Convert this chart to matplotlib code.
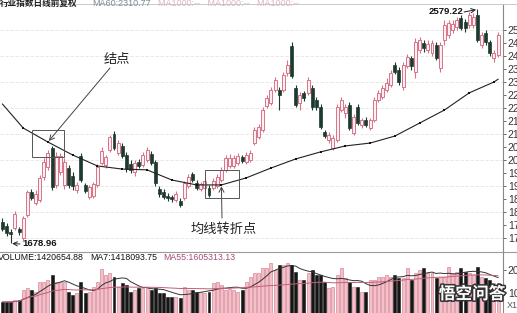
import numpy as np
import pandas as pd
import matplotlib
matplotlib.use("Agg")
import matplotlib.pyplot as plt
from matplotlib.patches import Rectangle
from matplotlib.lines import Line2D
import matplotlib.patheffects as pe

plt.rcParams['font.family'] = ['Liberation Sans', 'Noto Sans CJK SC', 'DejaVu Sans']

# ---- daily bars: open / high / low / close ----
opens = [1762, 1746, 1723, 1739, 1735, 1700, 1789, 1877, 1835, 1846,
         1935, 1973, 2046, 1904, 1954, 1904, 1969, 1939, 1885, 2015,
         1904, 1858, 1862, 1904, 1989, 1981, 2039, 2100, 2027, 2054,
         2019, 1985, 1954, 1992, 1981, 2000, 2023, 1992, 1889, 1877,
         1862, 1858, 1846, 1842, 1854, 1900, 1946, 1912, 1889, 1892,
         1892, 1892, 1900, 1923, 1962, 1977, 1977, 1989, 2012, 1992,
         2000, 2065, 2089, 2115, 2208, 2219, 2269, 2269, 2269, 2335,
         2439, 2277, 2219, 2258, 2258, 2277, 2231, 2204, 2108, 2077,
         2046, 2077, 2192, 2181, 2212, 2104, 2204, 2135, 2154, 2123,
         2154, 2231, 2242, 2269, 2289, 2365, 2346, 2281, 2362, 2392,
         2339, 2423, 2450, 2423, 2412, 2442, 2354, 2462, 2481, 2500,
         2512, 2546, 2531, 2519, 2519, 2558, 2442, 2488, 2454, 2392,
         2404]
highs = [1777, 1758, 1735, 1804, 1742, 1785, 1885, 1889, 1885, 1942,
         2008, 2039, 2054, 2031, 2027, 2008, 1981, 1954, 1915, 2027,
         1912, 1904, 1915, 1985, 2050, 2019, 2096, 2112, 2077, 2065,
         2031, 2000, 2000, 2004, 2031, 2050, 2035, 2000, 1900, 1889,
         1873, 1865, 1881, 1854, 1919, 1946, 1954, 1923, 1915, 1931,
         1904, 1931, 1946, 1973, 2019, 2023, 2019, 2027, 2019, 2031,
         2039, 2127, 2139, 2204, 2250, 2281, 2319, 2281, 2339, 2385,
         2454, 2289, 2262, 2265, 2319, 2289, 2242, 2215, 2115, 2108,
         2096, 2215, 2242, 2215, 2223, 2177, 2215, 2162, 2165, 2162,
         2242, 2269, 2289, 2315, 2346, 2377, 2358, 2377, 2408, 2400,
         2469, 2473, 2462, 2462, 2462, 2454, 2454, 2539, 2539, 2539,
         2550, 2558, 2542, 2569, 2565, 2579.22, 2492, 2500, 2462, 2423,
         2492]
lows = [1727, 1708, 1678.96, 1731, 1712, 1689, 1781, 1846, 1827, 1839,
        1923, 1962, 1885, 1892, 1942, 1889, 1892, 1885, 1873, 1915,
        1873, 1850, 1854, 1896, 1981, 1969, 2031, 2039, 2019, 2008,
        1954, 1950, 1939, 1969, 1973, 1992, 1981, 1900, 1858, 1850,
        1842, 1839, 1839, 1819, 1846, 1892, 1915, 1885, 1881, 1885,
        1858, 1885, 1892, 1915, 1954, 1969, 1969, 1981, 1989, 1985,
        1992, 2058, 2081, 2108, 2200, 2212, 2262, 2192, 2262, 2323,
        2315, 2204, 2192, 2227, 2250, 2192, 2192, 2119, 2085, 2065,
        2039, 2069, 2185, 2162, 2115, 2096, 2135, 2123, 2127, 2115,
        2146, 2223, 2235, 2262, 2281, 2331, 2289, 2269, 2354, 2346,
        2315, 2412, 2415, 2412, 2400, 2385, 2339, 2442, 2469, 2489,
        2500, 2500, 2492, 2508, 2508, 2454, 2431, 2442, 2400, 2377,
        2396]
closes = [1735, 1719, 1715, 1792, 1723, 1777, 1877, 1854, 1869, 1931,
          1992, 2027, 1896, 2015, 2015, 1992, 1904, 1900, 1904, 1923,
          1881, 1896, 1908, 1973, 2035, 2012, 2089, 2046, 2065, 2015,
          1965, 1962, 1989, 1977, 2019, 2039, 1989, 1912, 1869, 1858,
          1854, 1850, 1869, 1827, 1912, 1935, 1923, 1892, 1908, 1919,
          1865, 1919, 1935, 1962, 2008, 2008, 2008, 2015, 1996, 2019,
          2027, 2115, 2127, 2192, 2239, 2269, 2308, 2250, 2327, 2365,
          2323, 2212, 2250, 2239, 2308, 2204, 2204, 2127, 2092, 2096,
          2085, 2204, 2231, 2204, 2123, 2165, 2142, 2154, 2135, 2154,
          2231, 2258, 2277, 2296, 2335, 2339, 2300, 2365, 2396, 2362,
          2454, 2462, 2431, 2446, 2450, 2392, 2442, 2519, 2527, 2523,
          2539, 2508, 2508, 2558, 2550, 2462, 2481, 2454, 2412, 2412,
          2481]

# daily volume, in units of 100000
volume = [5.8, 5.8, 5.8, 6.7, 6.7, 11.2, 12.1, 11.2, 10.3, 14.7,
          14.7, 15.6, 17.9, 14.7, 14.7, 14.7, 10.3, 8.9, 9.8, 14.7,
          9.8, 10.3, 12.5, 14.7, 20.5, 17.9, 18.8, 17.0, 12.5, 14.3,
          13.4, 10.3, 11.2, 12.1, 12.1, 12.1, 11.2, 12.1, 9.8, 9.8,
          8.0, 8.0, 8.0, 7.6, 12.5, 11.2, 11.2, 10.3, 10.3, 9.8,
          10.3, 14.3, 14.7, 13.4, 11.2, 11.6, 11.2, 10.3, 11.2, 14.7,
          17.0, 18.8, 18.8, 21.0, 21.0, 23.2, 20.1, 22.3, 22.3, 23.2,
          22.3, 19.2, 15.6, 15.6, 18.8, 20.1, 17.9, 17.9, 14.7, 12.1,
          12.5, 17.9, 21.0, 16.5, 14.7, 12.5, 12.5, 10.3, 10.3, 15.6,
          15.6, 17.0, 17.0, 17.9, 17.0, 17.9, 16.5, 16.5, 21.0, 15.6,
          18.8, 20.1, 21.0, 18.8, 18.8, 16.5, 17.0, 17.0, 21.4, 18.8,
          19.2, 21.0, 19.2, 18.8, 17.9, 21.4, 17.0, 16.5, 15.6, 14.3,
          14.2065488]

# 60-day moving average of the close, sampled every six sessions
ma60_idx = [0, 5, 11, 17, 23, 29, 35, 41, 47, 53, 59, 65, 71, 77, 83,
            89, 95, 101, 107, 113, 119, 120]
ma60_val = [2215, 2123, 2069, 2019, 1977, 1965, 1962, 1923, 1904, 1904,
            1931, 1969, 2004, 2031, 2054, 2065, 2092, 2142, 2192, 2258,
            2300, 2310.77]

price_ticks = list(range(1700, 2501, 50))

UP_EDGE = '#d77288'
UP_FACE = '#fdf0f2'
DOWN = '#1e3a2e'
VOL_UP_FACE = '#f3bfc9'
VOL_UP_EDGE = '#d98a9a'
VOL_DOWN = '#161616'

W, H = 517, 313
fig = plt.figure(figsize=(W / 100, H / 100), dpi=100)
fig.patch.set_facecolor('white')


def fy(py):
    return 1 - py / H


ax = fig.add_axes([0, fy(252), 503 / W, (252 - 4) / H])
vax = fig.add_axes([0, fy(315), 503 / W, (315 - 252) / H])

n = len(closes)
idx = np.arange(n)
o = np.array(opens, float)
c = np.array(closes, float)
hi = np.array(highs, float)
lo = np.array(lows, float)
up = c >= o

# ---- price panel ----
for p in range(1700, 2600, 100):
    ax.axhline(p, color='#e4e4e4', lw=0.6, ls=(0, (4, 2)), zorder=0)

wick_col = np.where(up, UP_EDGE, DOWN)
ax.vlines(idx, lo, hi, colors=wick_col, lw=0.8, zorder=2)
body_bot = np.minimum(o, c)
body_h = np.maximum(np.abs(c - o), 3)
ax.bar(idx[up], body_h[up], bottom=body_bot[up], width=0.72,
       facecolor=UP_FACE, edgecolor=UP_EDGE, linewidth=0.7, zorder=3)
ax.bar(idx[~up], body_h[~up], bottom=body_bot[~up], width=0.72,
       facecolor=DOWN, edgecolor=DOWN, linewidth=0.5, zorder=3)

ax.plot(ma60_idx, ma60_val, color='#222222', lw=0.8, zorder=4)
ax.plot(ma60_idx[1:-1], ma60_val[1:-1], 's', color='#111111', ms=2.0,
        mew=0, zorder=5)

ax.set_xlim(-0.605, 121.19)
ax.set_ylim(1646, 2600)
ax.yaxis.tick_right()
ax.set_yticks(price_ticks)
ax.set_yticklabels([str(t) for t in price_ticks])
ax.tick_params(axis='y', direction='out', length=2.5, width=0.6, pad=1,
               labelsize=7.5, colors='#555555', labelcolor='#333333')
ax.set_xticks([])
for s in ('left', 'top', 'bottom'):
    ax.spines[s].set_visible(False)
ax.spines['right'].set_color('#888888')
ax.spines['right'].set_linewidth(0.8)

# high / low markers
ax.annotate('', xy=(115, 2579.22), xytext=(464, H - 12), textcoords='figure pixels',
            arrowprops=dict(arrowstyle='->,head_length=0.3,head_width=0.15',
                            color='#222222', lw=0.7, shrinkA=0, shrinkB=1))
fig.text(463 / W, fy(12), '2579.22', ha='right', va='center',
         fontsize=6.8, fontweight='bold', color='#111111')
ax.annotate('', xy=(2, 1678.96), xytext=(20, H - 244), textcoords='figure pixels',
            arrowprops=dict(arrowstyle='->,head_length=0.3,head_width=0.15',
                            color='#222222', lw=0.7, shrinkA=0, shrinkB=1))
fig.text(22 / W, fy(244), '1678.96', ha='left', va='center',
         fontsize=6.8, fontweight='bold', color='#111111')

# annotations on the moving average
cjk = ['Noto Sans CJK SC', 'DejaVu Sans']
ax.add_patch(Rectangle((7.1, 2012), 7.8, 103, fill=False, edgecolor='#555555',
                       lw=0.7, zorder=6))
ax.add_patch(Rectangle((49.0, 1854), 8.3, 108, fill=False, edgecolor='#555555',
                       lw=0.7, zorder=6))
fig.text(117 / W, fy(59), '结点', ha='center', va='center', fontsize=9.5,
         family=cjk, color='#222222', fontweight='light')
ax.annotate('', xy=(11, 2069), xytext=(110, H - 68), textcoords='figure pixels',
            arrowprops=dict(arrowstyle='->,head_length=0.35,head_width=0.18',
                            color='#444444', lw=0.7, shrinkA=0, shrinkB=1))
fig.text(224 / W, fy(229), '均线转折点', ha='center', va='center', fontsize=9.5,
         family=cjk, color='#222222', fontweight='light')
ax.annotate('', xy=(53, 1904), xytext=(222, H - 218), textcoords='figure pixels',
            arrowprops=dict(arrowstyle='->,head_length=0.35,head_width=0.18',
                            color='#444444', lw=0.7, shrinkA=0, shrinkB=1))

# header of the price panel
fig.text(0, fy(3.5), '行业指数日线前复权', ha='left', va='center', fontsize=6.2,
         family=cjk, color='#222222', fontweight='bold')
fig.text(92 / W, fy(3.5), 'MA60:2310.77', ha='left', va='center', fontsize=6.5,
         color='#7f8a99')
fig.text(158 / W, fy(3.5), 'MA1000:--   MA1000:--   MA1000:--', ha='left',
         va='center', fontsize=6.5, color='#d9b7c0')

# ---- volume panel ----
vol = np.array(volume)
ma7 = pd.Series(vol).rolling(7, min_periods=1).mean()
ma55 = pd.Series(vol).rolling(55, min_periods=1).mean()
vax.bar(idx[up], vol[up], width=0.72, facecolor=VOL_UP_FACE,
        edgecolor=VOL_UP_EDGE, linewidth=0.5, zorder=2)
vax.bar(idx[~up], vol[~up], width=0.72, facecolor=VOL_DOWN,
        edgecolor=VOL_DOWN, linewidth=0.4, zorder=2)
vax.plot(idx, ma7, color='#333333', lw=0.7, zorder=3)
vax.plot(idx, ma55, color='#c0607a', lw=0.7, zorder=3)
vax.set_xlim(-0.605, 121.19)
vax.set_ylim(0, 28.1)
vax.yaxis.tick_right()
vax.set_yticks([10, 20])
vax.set_yticklabels(['10', '20'])
vax.tick_params(axis='y', direction='out', length=2.5, width=0.6, pad=1,
                labelsize=7.5, colors='#555555', labelcolor='#333333')
vax.set_xticks([])
for s in ('left', 'top', 'bottom'):
    vax.spines[s].set_visible(False)
vax.spines['right'].set_color('#888888')
vax.spines['right'].set_linewidth(0.8)
fig.text(507 / W, fy(306), 'X100000', ha='left', va='center', fontsize=6.5,
         color='#555555')

fig.text(-2 / W, fy(258), 'VOLUME:1420654.88', ha='left', va='center',
         fontsize=6.3, color='#111111')
fig.text(90 / W, fy(258), 'MA7:1418093.75', ha='left', va='center',
         fontsize=6.3, color='#111111')
fig.text(163 / W, fy(258), 'MA55:1605313.13', ha='left', va='center',
         fontsize=6.3, color='#a54a76')

# panel borders
fig.add_artist(Line2D([0, 1], [fy(3.5), fy(3.5)], color='#c8c8c8', lw=0.7))
fig.add_artist(Line2D([0, 1], [fy(252), fy(252)], color='#9a9a9a', lw=0.8))

# watermark
fig.text(472 / W, fy(294), '悟空问答', ha='center', va='center', fontsize=12,
         family=cjk, color='white', fontweight='bold',
         path_effects=[pe.withStroke(linewidth=2.2, foreground='#333333')])

fig.savefig('out.png', dpi=100)
